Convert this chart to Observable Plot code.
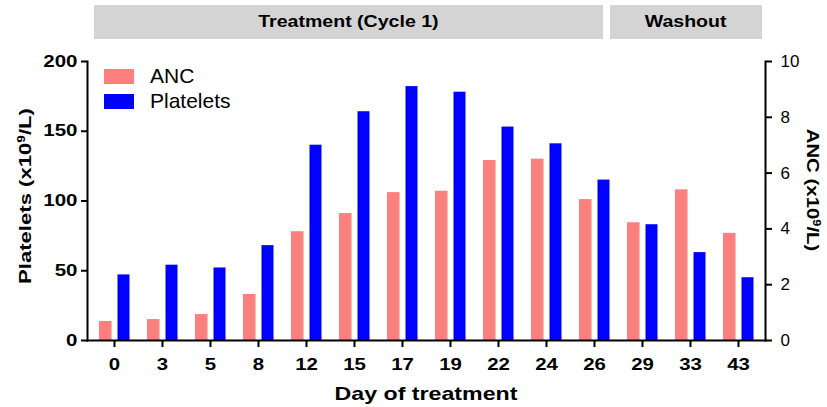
<!DOCTYPE html>
<html>
<head>
<meta charset="utf-8">
<script src="https://cdn.jsdelivr.net/npm/d3@7"></script>
<script src="https://cdn.jsdelivr.net/npm/@observablehq/plot@0.6"></script>
<style>
  html, body { margin: 0; padding: 0; background: #fff; }
  #wrap { position: relative; width: 827px; height: 407px; font-family: "Liberation Sans", Arial, sans-serif; color: #000; overflow: hidden; }
  #wrap svg { position: absolute; left: 0; top: 0; }
  .banner { position: absolute; top: 5px; height: 34px; background: #d4d4d4; display: flex; align-items: center; justify-content: center; }
  .banner span { font-weight: bold; font-size: 17px; display: inline-block; transform: scaleX(1.15); white-space: nowrap; }
  .sw { position: absolute; left: 104px; width: 30px; height: 15px; }
  .lg { position: absolute; left: 150px; font-size: 21px; line-height: 21px; white-space: nowrap; }
  .title { position: absolute; font-weight: bold; white-space: nowrap; }
  .title sup { font-size: 0.62em; vertical-align: 0.55em; line-height: 0; }
</style>
</head>
<body>
<div id="wrap"></div>
<script>
// ---- data ----
const days = ["0", "3", "5", "8", "12", "15", "17", "19", "22", "24", "26", "29", "33", "43"];
const anc = [0.68, 0.75, 0.93, 1.65, 3.9, 4.55, 5.3, 5.35, 6.45, 6.5, 5.05, 4.22, 5.4, 3.84];
const platelets = [47, 54, 52, 68, 140, 164, 182, 178, 153, 141, 115, 83, 63, 45];
const plateletTicks = [0, 50, 100, 150, 200];
const ancTicks = [0, 2, 4, 6, 8, 10];
const seriesNames = ["ANC", "Platelets"];
const seriesColors = ["#ff7f7f", "#0000ff"];
const phases = ["Treatment (Cycle 1)", "Washout"];
const xTitle = "Day of treatment";
const ancToPlt = 20; // ANC 10 aligns with platelets 200

const rows = days.map((d, i) => ({ day: d, anc: anc[i], plt: platelets[i] }));

const chart = Plot.plot({
  width: 827,
  height: 407,
  marginTop: 61,
  marginBottom: 67,
  marginLeft: 87,
  marginRight: 62,
  style: { fontFamily: '"Liberation Sans", Arial, sans-serif', color: "#000", background: "transparent" },
  x: { type: "band", domain: days, padding: 0 },
  y: { domain: [0, 200] },
  marks: [
    Plot.barY(rows, { x: "day", y: d => d.anc * ancToPlt, fill: seriesColors[0], insetLeft: 9, insetRight: 26.5 }),
    Plot.barY(rows, { x: "day", y: "plt", fill: seriesColors[1], insetLeft: 27.5, insetRight: 8.5 }),
    Plot.axisX({ tickSize: 7, tickPadding: 10, label: null, fontSize: 17, fontWeight: "bold", strokeWidth: 2 }),
    Plot.axisY({ ticks: plateletTicks, tickSize: 6, tickPadding: 4, label: null, fontSize: 16, fontWeight: "bold", strokeWidth: 2 }),
    Plot.axisY({ anchor: "right", ticks: ancTicks.map(v => v * ancToPlt), tickFormat: d => d / ancToPlt,
                 tickSize: 6, tickPadding: 9, label: null, fontSize: 17, strokeWidth: 2 }),
    Plot.frame({ anchor: "left", strokeWidth: 2 }),
    Plot.frame({ anchor: "right", strokeWidth: 2 }),
    Plot.frame({ anchor: "bottom", strokeWidth: 2 })
  ]
});

// widen bold tick labels along their baseline (as in the reference)
chart.querySelectorAll('g[aria-label$="tick label"]').forEach(g => {
  if (g.getAttribute("font-weight") !== "bold") return;
  const isX = (g.getAttribute("aria-label") || "").startsWith("x");
  const s = isX ? 1.2 : 1.28;
  g.querySelectorAll("text").forEach(t => {
    const tr = t.getAttribute("transform") || "";
    t.setAttribute("transform", tr + ` scale(${s},1)`);
  });
});

const wrap = document.getElementById("wrap");
wrap.appendChild(chart);

// phase banners
const bannerBoxes = [[94, 509], [610, 152]];
phases.forEach((p, i) => {
  const b = document.createElement("div");
  b.className = "banner";
  b.style.left = bannerBoxes[i][0] + "px";
  b.style.width = bannerBoxes[i][1] + "px";
  const s = document.createElement("span");
  s.textContent = p;
  b.appendChild(s);
  wrap.appendChild(b);
});

// legend
const lgTops = [69, 94];
seriesNames.forEach((n, i) => {
  const sw = document.createElement("div");
  sw.className = "sw";
  sw.style.top = lgTops[i] + "px";
  sw.style.background = seriesColors[i];
  wrap.appendChild(sw);
  const t = document.createElement("div");
  t.className = "lg";
  t.style.top = (lgTops[i] - 4) + "px";
  t.textContent = n;
  wrap.appendChild(t);
});

// axis titles
function addTitle(html, x, y, size, rot, sx) {
  const d = document.createElement("div");
  d.className = "title";
  d.style.left = x + "px";
  d.style.top = y + "px";
  d.style.fontSize = size + "px";
  d.style.transform = `translate(-50%,-50%) rotate(${rot}deg) scaleX(${sx})`;
  d.innerHTML = html;
  wrap.appendChild(d);
}
addTitle("Platelets (x10<sup>9</sup>/L)", 26, 196, 17, -90, 1.3);
addTitle("ANC (x10<sup>9</sup>/L)", 812, 190, 17, 90, 1.2);
addTitle(xTitle, 426, 394, 19, 0, 1.22);
</script>
</body>
</html>
